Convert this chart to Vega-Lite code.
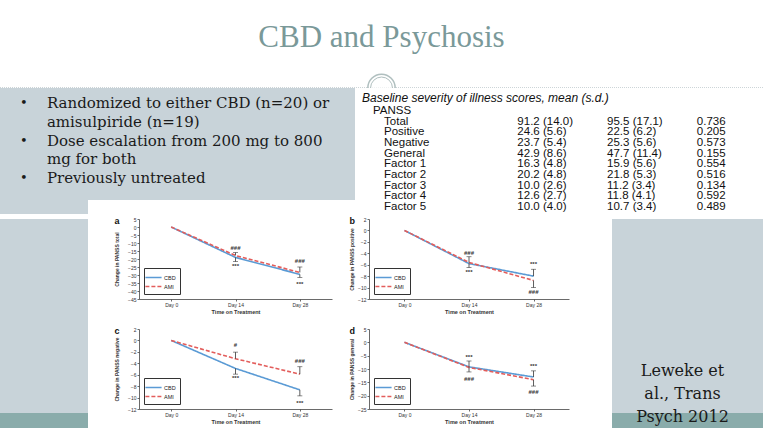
{
  "$schema": "https://vega.github.io/schema/vega-lite/v6.json",
  "background": "white",
  "padding": 0,
  "spacing": 0,
  "resolve": {"scale": {"color": "independent", "strokeDash": "independent"}},
  "datasets": {
    "series": [
      {"panel": "a", "group": "CBD", "day": "Day 0", "mean": 0, "end": null},
      {"panel": "a", "group": "CBD", "day": "Day 14", "mean": -19.0, "end": -21.6},
      {"panel": "a", "group": "CBD", "day": "Day 28", "mean": -29.6, "end": -31.5},
      {"panel": "a", "group": "AMI", "day": "Day 0", "mean": 0, "end": null},
      {"panel": "a", "group": "AMI", "day": "Day 14", "mean": -17.8, "end": -16.0},
      {"panel": "a", "group": "AMI", "day": "Day 28", "mean": -28.4, "end": -25.0},
      {"panel": "b", "group": "CBD", "day": "Day 0", "mean": 0, "end": null},
      {"panel": "b", "group": "CBD", "day": "Day 14", "mean": -5.8, "end": -6.5},
      {"panel": "b", "group": "CBD", "day": "Day 28", "mean": -8.0, "end": -6.8},
      {"panel": "b", "group": "AMI", "day": "Day 0", "mean": 0, "end": null},
      {"panel": "b", "group": "AMI", "day": "Day 14", "mean": -5.6, "end": -4.6},
      {"panel": "b", "group": "AMI", "day": "Day 28", "mean": -8.75, "end": -10.0},
      {"panel": "c", "group": "CBD", "day": "Day 0", "mean": 0, "end": null},
      {"panel": "c", "group": "CBD", "day": "Day 14", "mean": -4.9, "end": -5.9},
      {"panel": "c", "group": "CBD", "day": "Day 28", "mean": -8.65, "end": -9.7},
      {"panel": "c", "group": "AMI", "day": "Day 0", "mean": 0, "end": null},
      {"panel": "c", "group": "AMI", "day": "Day 14", "mean": -3.2, "end": -2.05},
      {"panel": "c", "group": "AMI", "day": "Day 28", "mean": -5.9, "end": -4.6},
      {"panel": "d", "group": "CBD", "day": "Day 0", "mean": 0, "end": null},
      {"panel": "d", "group": "CBD", "day": "Day 14", "mean": -9.2, "end": -7.0},
      {"panel": "d", "group": "CBD", "day": "Day 28", "mean": -13.0, "end": -10.7},
      {"panel": "d", "group": "AMI", "day": "Day 0", "mean": 0, "end": null},
      {"panel": "d", "group": "AMI", "day": "Day 14", "mean": -9.4, "end": -11.1},
      {"panel": "d", "group": "AMI", "day": "Day 28", "mean": -14.0, "end": -16.4}
    ],
    "annot": [
      {"panel": "a", "day": "Day 14", "label": "###", "value": -13},
      {"panel": "a", "day": "Day 14", "label": "***", "value": -24.6},
      {"panel": "a", "day": "Day 28", "label": "###", "value": -21.4},
      {"panel": "a", "day": "Day 28", "label": "***", "value": -35.4},
      {"panel": "b", "day": "Day 14", "label": "###", "value": -3.9},
      {"panel": "b", "day": "Day 14", "label": "***", "value": -7.2},
      {"panel": "b", "day": "Day 28", "label": "***", "value": -5.9},
      {"panel": "b", "day": "Day 28", "label": "###", "value": -10.7},
      {"panel": "c", "day": "Day 14", "label": "#", "value": -0.8},
      {"panel": "c", "day": "Day 14", "label": "***", "value": -6.6},
      {"panel": "c", "day": "Day 28", "label": "###", "value": -3.65},
      {"panel": "c", "day": "Day 28", "label": "***", "value": -10.9},
      {"panel": "d", "day": "Day 14", "label": "***", "value": -5.6},
      {"panel": "d", "day": "Day 14", "label": "###", "value": -13.6},
      {"panel": "d", "day": "Day 28", "label": "***", "value": -9.0},
      {"panel": "d", "day": "Day 28", "label": "###", "value": -18.5}
    ],
    "tableRows": [
      {"row": "PANSS", "level": 1, "label": "PANSS"},
      {"row": "Total", "level": 2, "label": "Total"},
      {"row": "Positive", "level": 2, "label": "Positive"},
      {"row": "Negative", "level": 2, "label": "Negative"},
      {"row": "General", "level": 2, "label": "General"},
      {"row": "Factor 1", "level": 2, "label": "Factor 1"},
      {"row": "Factor 2", "level": 2, "label": "Factor 2"},
      {"row": "Factor 3", "level": 2, "label": "Factor 3"},
      {"row": "Factor 4", "level": 2, "label": "Factor 4"},
      {"row": "Factor 5", "level": 2, "label": "Factor 5"}
    ],
    "tableValues": [
      {"row": "Total", "cbd": "91.2 (14.0)", "ami": "95.5 (17.1)", "p": "0.736"},
      {"row": "Positive", "cbd": "24.6 (5.6)", "ami": "22.5 (6.2)", "p": "0.205"},
      {"row": "Negative", "cbd": "23.7 (5.4)", "ami": "25.3 (5.6)", "p": "0.573"},
      {"row": "General", "cbd": "42.9 (8.6)", "ami": "47.7 (11.4)", "p": "0.155"},
      {"row": "Factor 1", "cbd": "16.3 (4.8)", "ami": "15.9 (5.6)", "p": "0.554"},
      {"row": "Factor 2", "cbd": "20.2 (4.8)", "ami": "21.8 (5.3)", "p": "0.516"},
      {"row": "Factor 3", "cbd": "10.0 (2.6)", "ami": "11.2 (3.4)", "p": "0.134"},
      {"row": "Factor 4", "cbd": "12.6 (2.7)", "ami": "11.8 (4.1)", "p": "0.592"},
      {"row": "Factor 5", "cbd": "10.0 (4.0)", "ami": "10.7 (3.4)", "p": "0.489"}
    ]
  },
  "config": {
    "view": {"stroke": null},
    "font": "Liberation Sans",
    "axis": {"labelFontSize": 5, "titleFontSize": 5, "labelColor": "#333", "titleColor": "#333", "domainColor": "#444", "tickColor": "#444", "tickSize": 2, "labelPadding": 1, "grid": false, "titleFontWeight": "bold", "domainWidth": 0.8, "tickWidth": 0.8, "labelOverlap": false, "labelFlush": false},
    "axisX": {"titlePadding": 2, "titleFontSize": 5.5, "labelAngle": 0},
    "axisY": {"titlePadding": 5},
    "legend": {"orient": "bottom-left", "offset": 5, "strokeColor": "#333", "fillColor": "white", "padding": 4, "labelFontSize": 5.5, "labelColor": "#222", "symbolType": "M-1.8,0H1.8", "symbolSize": 81, "symbolStrokeWidth": 1.5, "rowPadding": 0, "labelOffset": 5},
    "title": {"fontSize": 9, "fontWeight": "bold", "anchor": "start", "frame": "bounds", "baseline": "middle", "offset": -9, "color": "#111"}
  },
  "vconcat": [
    {
      "width": 763,
      "height": 88,
      "data": {"values": [{"heading": "CBD and Psychosis"}]},
      "layer": [
        {"mark": {"type": "rule", "strokeDash": [1, 1], "color": "#9aabb0", "strokeWidth": 1, "clip": true}, "encoding": {"y": {"value": "height"}}},
        {"mark": {"type": "point", "shape": "circle", "size": 750, "filled": true, "fill": "white", "stroke": "#8fa5a5", "strokeWidth": 1.5, "clip": true}, "encoding": {"y": {"value": "height"}}},
        {"mark": {"type": "point", "shape": "circle", "size": 480, "filled": false, "stroke": "#8fa5a5", "strokeWidth": 1, "clip": true}, "encoding": {"y": {"value": "height"}}},
        {"mark": {"type": "text", "font": "Liberation Serif", "fontSize": 31, "color": "#7a9999", "dy": -6}, "encoding": {"text": {"field": "heading"}}}
      ]
    },
    {
      "hconcat": [
        {
          "vconcat": [
            {
              "width": 355,
              "height": 112,
              "view": {"fill": "#c8d3d9"},
              "data": {"values": [
                {"line": 1, "bullet": "•", "text": "Randomized to either CBD (n=20) or"},
                {"line": 2, "bullet": "", "text": "amisulpiride (n=19)"},
                {"line": 3, "bullet": "•", "text": "Dose escalation from 200 mg to 800"},
                {"line": 4, "bullet": "", "text": "mg for both"},
                {"line": 5, "bullet": "•", "text": "Previously untreated"}
              ]},
              "encoding": {"y": {"field": "line", "type": "ordinal", "scale": {"type": "point", "padding": 1.08, "align": 0.41}, "axis": null}},
              "layer": [
                {"mark": {"type": "text", "align": "center", "font": "DejaVu Serif", "fontSize": 13, "color": "#1a1a1a"}, "encoding": {"x": {"datum": 0, "type": "quantitative", "scale": {"domain": [-1.04, 14.4], "nice": false, "zero": false}, "axis": null}, "text": {"field": "bullet"}}},
                {"mark": {"type": "text", "align": "left", "font": "DejaVu Serif", "fontSize": 15, "color": "#1a1a1a"}, "encoding": {"x": {"datum": 1, "type": "quantitative"}, "text": {"field": "text"}}}
              ]
            },
            {"width": 88, "height": 14, "view": {"fill": "#c8d3d9"}, "data": {"values": []}, "mark": "point"}
          ],
          "spacing": 0
        },
        {
          "vconcat": [
            {
              "width": 408,
              "height": 15,
              "view": {"fill": "white"},
              "data": {"values": [{"level": 0, "label": "Baseline severity of illness scores, mean (s.d.)"}]},
              "mark": {"type": "text", "align": "left", "fontSize": 12, "fontStyle": "italic", "color": "#111", "dy": 2},
              "encoding": {
                "x": {"field": "level", "type": "quantitative", "scale": {"domain": [-0.64, 36.45], "nice": false, "zero": false}, "axis": null},
                "text": {"field": "label"}
              }
            },
            {
              "hconcat": [
                {
                  "width": 155,
                  "height": 111,
                  "view": {"fill": "white"},
                  "data": {"name": "tableRows"},
                  "mark": {"type": "text", "align": "left", "fontSize": 11.5, "color": "#111"},
                  "encoding": {
                    "x": {"field": "level", "type": "quantitative", "scale": {"domain": [-0.64, 13.45], "nice": false, "zero": false}, "axis": null},
                    "y": {"field": "row", "type": "nominal", "scale": {"type": "point", "domain": ["PANSS", "Total", "Positive", "Negative", "General", "Factor 1", "Factor 2", "Factor 3", "Factor 4", "Factor 5"], "padding": 0.7, "align": 0.33}, "axis": null},
                    "text": {"field": "label"}
                  }
                },
                {
                  "width": 253,
                  "height": 111,
                  "view": {"fill": "white"},
                  "data": {"name": "tableValues"},
                  "transform": [{"fold": ["cbd", "ami", "p"]}],
                  "mark": {"type": "text", "align": "left", "fontSize": 11.5, "color": "#111"},
                  "encoding": {
                    "x": {"field": "key", "type": "nominal", "scale": {"type": "point", "domain": ["cbd", "ami", "p"], "padding": 0.41, "align": 0.1}, "axis": null},
                    "y": {"field": "row", "type": "nominal", "scale": {"type": "point", "domain": ["PANSS", "Total", "Positive", "Negative", "General", "Factor 1", "Factor 2", "Factor 3", "Factor 4", "Factor 5"], "padding": 0.7, "align": 0.33}, "axis": null},
                    "text": {"field": "value"}
                  }
                }
              ],
              "spacing": 0
            }
          ],
          "spacing": 0
        }
      ],
      "spacing": 0
    },
    {
      "hconcat": [
        {
          "width": 88, "height": 214, "view": {"fill": "#c8d3d9"},
          "data": {"values": [{"band": "footer"}]},
          "mark": {"type": "rule", "color": "#8aacab", "strokeWidth": 40, "clip": true},
          "encoding": {"y": {"value": "height"}}
        },
        {
          "hconcat": [
            {
              "vconcat": [
                {
                  "hconcat": [
                    {
                      "width": 193, "height": 80,
                      "title": {"text": "a"},
                      "encoding": {
                        "x": {"field": "day", "type": "nominal", "sort": ["Day 0", "Day 14", "Day 28"], "scale": {"type": "point", "padding": 0.5}, "title": "Time on Treatment"},
                        "y": {"field": "mean", "type": "quantitative", "title": "Change in PANSS total", "scale": {"domain": [-45, 5], "nice": false, "zero": false}, "axis": {"values": [5, 0, -5, -10, -15, -20, -25, -30, -35, -40, -45], "tickCount": 11, "titlePadding": 8, "labelOverlap": false, "labelFlush": false}}
                      },
                      "layer": [
                        {"data": {"name": "series"}, "transform": [{"filter": "datum.panel == 'a'"}], "mark": {"type": "line", "strokeWidth": 1.6},
                         "encoding": {
                           "color": {"field": "group", "type": "nominal", "title": null, "scale": {"domain": ["CBD", "AMI"], "range": ["#5b9bd5", "#e35d5b"]}},
                           "strokeDash": {"field": "group", "type": "nominal", "title": null, "scale": {"domain": ["CBD", "AMI"], "range": [[1, 0], [4, 2]]}}
                         }},
                        {"data": {"name": "series"}, "transform": [{"filter": "datum.panel == 'a' && datum.end != null"}], "mark": {"type": "rule", "color": "#333", "strokeWidth": 0.8},
                         "encoding": {"y2": {"field": "end"}}},
                        {"data": {"name": "series"}, "transform": [{"filter": "datum.panel == 'a' && datum.end != null"}], "mark": {"type": "tick", "orient": "horizontal", "size": 5, "thickness": 0.8, "color": "#333"},
                         "encoding": {"y": {"field": "end", "type": "quantitative", "title": "Change in PANSS total"}}},
                        {"data": {"name": "annot"}, "transform": [{"filter": "datum.panel == 'a'"}], "mark": {"type": "text", "fontSize": 6, "fontWeight": "bold", "color": "#333"},
                         "encoding": {"y": {"field": "value", "type": "quantitative", "title": "Change in PANSS total"}, "text": {"field": "label"}}}
                      ]
                    },
                    {
                      "width": 200, "height": 80,
                      "title": {"text": "b"},
                      "encoding": {
                        "x": {"field": "day", "type": "nominal", "sort": ["Day 0", "Day 14", "Day 28"], "scale": {"type": "point", "padding": 0.55}, "title": "Time on Treatment"},
                        "y": {"field": "mean", "type": "quantitative", "title": "Change in PANSS positive", "scale": {"domain": [-12, 2], "nice": false, "zero": false}, "axis": {"values": [2, 0, -2, -4, -6, -8, -10, -12], "tickCount": 8, "titlePadding": 3, "labelOverlap": false, "labelFlush": false}}
                      },
                      "layer": [
                        {"data": {"name": "series"}, "transform": [{"filter": "datum.panel == 'b'"}], "mark": {"type": "line", "strokeWidth": 1.6},
                         "encoding": {
                           "color": {"field": "group", "type": "nominal", "title": null, "scale": {"domain": ["CBD", "AMI"], "range": ["#5b9bd5", "#e35d5b"]}},
                           "strokeDash": {"field": "group", "type": "nominal", "title": null, "scale": {"domain": ["CBD", "AMI"], "range": [[1, 0], [4, 2]]}}
                         }},
                        {"data": {"name": "series"}, "transform": [{"filter": "datum.panel == 'b' && datum.end != null"}], "mark": {"type": "rule", "color": "#333", "strokeWidth": 0.8},
                         "encoding": {"y2": {"field": "end"}}},
                        {"data": {"name": "series"}, "transform": [{"filter": "datum.panel == 'b' && datum.end != null"}], "mark": {"type": "tick", "orient": "horizontal", "size": 5, "thickness": 0.8, "color": "#333"},
                         "encoding": {"y": {"field": "end", "type": "quantitative", "title": "Change in PANSS positive"}}},
                        {"data": {"name": "annot"}, "transform": [{"filter": "datum.panel == 'b'"}], "mark": {"type": "text", "fontSize": 6, "fontWeight": "bold", "color": "#333"},
                         "encoding": {"y": {"field": "value", "type": "quantitative", "title": "Change in PANSS positive"}, "text": {"field": "label"}}}
                      ]
                    }
                  ],
                  "spacing": 17,
                  "resolve": {"scale": {"color": "independent", "strokeDash": "independent"}}
                },
                {
                  "hconcat": [
                    {
                      "width": 193, "height": 80,
                      "title": {"text": "c"},
                      "encoding": {
                        "x": {"field": "day", "type": "nominal", "sort": ["Day 0", "Day 14", "Day 28"], "scale": {"type": "point", "padding": 0.5}, "title": "Time on Treatment"},
                        "y": {"field": "mean", "type": "quantitative", "title": "Change in PANSS negative", "scale": {"domain": [-12, 2], "nice": false, "zero": false}, "axis": {"values": [2, 0, -2, -4, -6, -8, -10, -12], "tickCount": 8, "titlePadding": 8, "labelOverlap": false, "labelFlush": false}}
                      },
                      "layer": [
                        {"data": {"name": "series"}, "transform": [{"filter": "datum.panel == 'c'"}], "mark": {"type": "line", "strokeWidth": 1.6},
                         "encoding": {
                           "color": {"field": "group", "type": "nominal", "title": null, "scale": {"domain": ["CBD", "AMI"], "range": ["#5b9bd5", "#e35d5b"]}},
                           "strokeDash": {"field": "group", "type": "nominal", "title": null, "scale": {"domain": ["CBD", "AMI"], "range": [[1, 0], [4, 2]]}}
                         }},
                        {"data": {"name": "series"}, "transform": [{"filter": "datum.panel == 'c' && datum.end != null"}], "mark": {"type": "rule", "color": "#333", "strokeWidth": 0.8},
                         "encoding": {"y2": {"field": "end"}}},
                        {"data": {"name": "series"}, "transform": [{"filter": "datum.panel == 'c' && datum.end != null"}], "mark": {"type": "tick", "orient": "horizontal", "size": 5, "thickness": 0.8, "color": "#333"},
                         "encoding": {"y": {"field": "end", "type": "quantitative", "title": "Change in PANSS negative"}}},
                        {"data": {"name": "annot"}, "transform": [{"filter": "datum.panel == 'c'"}], "mark": {"type": "text", "fontSize": 6, "fontWeight": "bold", "color": "#333"},
                         "encoding": {"y": {"field": "value", "type": "quantitative", "title": "Change in PANSS negative"}, "text": {"field": "label"}}}
                      ]
                    },
                    {
                      "width": 200, "height": 80,
                      "title": {"text": "d"},
                      "encoding": {
                        "x": {"field": "day", "type": "nominal", "sort": ["Day 0", "Day 14", "Day 28"], "scale": {"type": "point", "padding": 0.55}, "title": "Time on Treatment"},
                        "y": {"field": "mean", "type": "quantitative", "title": "Change in PANSS general", "scale": {"domain": [-25, 5], "nice": false, "zero": false}, "axis": {"values": [5, 0, -5, -10, -15, -20, -25], "tickCount": 7, "titlePadding": 3, "labelOverlap": false, "labelFlush": false}}
                      },
                      "layer": [
                        {"data": {"name": "series"}, "transform": [{"filter": "datum.panel == 'd'"}], "mark": {"type": "line", "strokeWidth": 1.6},
                         "encoding": {
                           "color": {"field": "group", "type": "nominal", "title": null, "scale": {"domain": ["CBD", "AMI"], "range": ["#5b9bd5", "#e35d5b"]}},
                           "strokeDash": {"field": "group", "type": "nominal", "title": null, "scale": {"domain": ["CBD", "AMI"], "range": [[1, 0], [4, 2]]}}
                         }},
                        {"data": {"name": "series"}, "transform": [{"filter": "datum.panel == 'd' && datum.end != null"}], "mark": {"type": "rule", "color": "#333", "strokeWidth": 0.8},
                         "encoding": {"y2": {"field": "end"}}},
                        {"data": {"name": "series"}, "transform": [{"filter": "datum.panel == 'd' && datum.end != null"}], "mark": {"type": "tick", "orient": "horizontal", "size": 5, "thickness": 0.8, "color": "#333"},
                         "encoding": {"y": {"field": "end", "type": "quantitative", "title": "Change in PANSS general"}}},
                        {"data": {"name": "annot"}, "transform": [{"filter": "datum.panel == 'd'"}], "mark": {"type": "text", "fontSize": 6, "fontWeight": "bold", "color": "#333"},
                         "encoding": {"y": {"field": "value", "type": "quantitative", "title": "Change in PANSS general"}, "text": {"field": "label"}}}
                      ]
                    }
                  ],
                  "spacing": 17,
                  "resolve": {"scale": {"color": "independent", "strokeDash": "independent"}}
                }
              ],
              "spacing": 12,
              "resolve": {"scale": {"color": "independent", "strokeDash": "independent"}}
            },
            {
              "width": 155, "height": 214, "view": {"fill": "#c8d3d9"},
              "data": {"values": [{"cite": ["Leweke et", "al., Trans", "Psych 2012"]}]},
              "layer": [
                {"mark": {"type": "rule", "color": "#8aacab", "strokeWidth": 40, "clip": true}, "encoding": {"y": {"value": "height"}}},
                {"mark": {"type": "text", "font": "DejaVu Serif", "fontSize": 16, "lineHeight": 23, "baseline": "top", "align": "center", "color": "#1a1a1a", "dy": -70, "dx": -7}, "encoding": {"text": {"field": "cite"}, "y": {"value": "height"}}}
              ]
            }
          ],
          "spacing": 43,
          "resolve": {"scale": {"color": "independent", "strokeDash": "independent"}}
        }
      ],
      "spacing": 26,
      "resolve": {"scale": {"color": "independent", "strokeDash": "independent"}}
    }
  ]
}
